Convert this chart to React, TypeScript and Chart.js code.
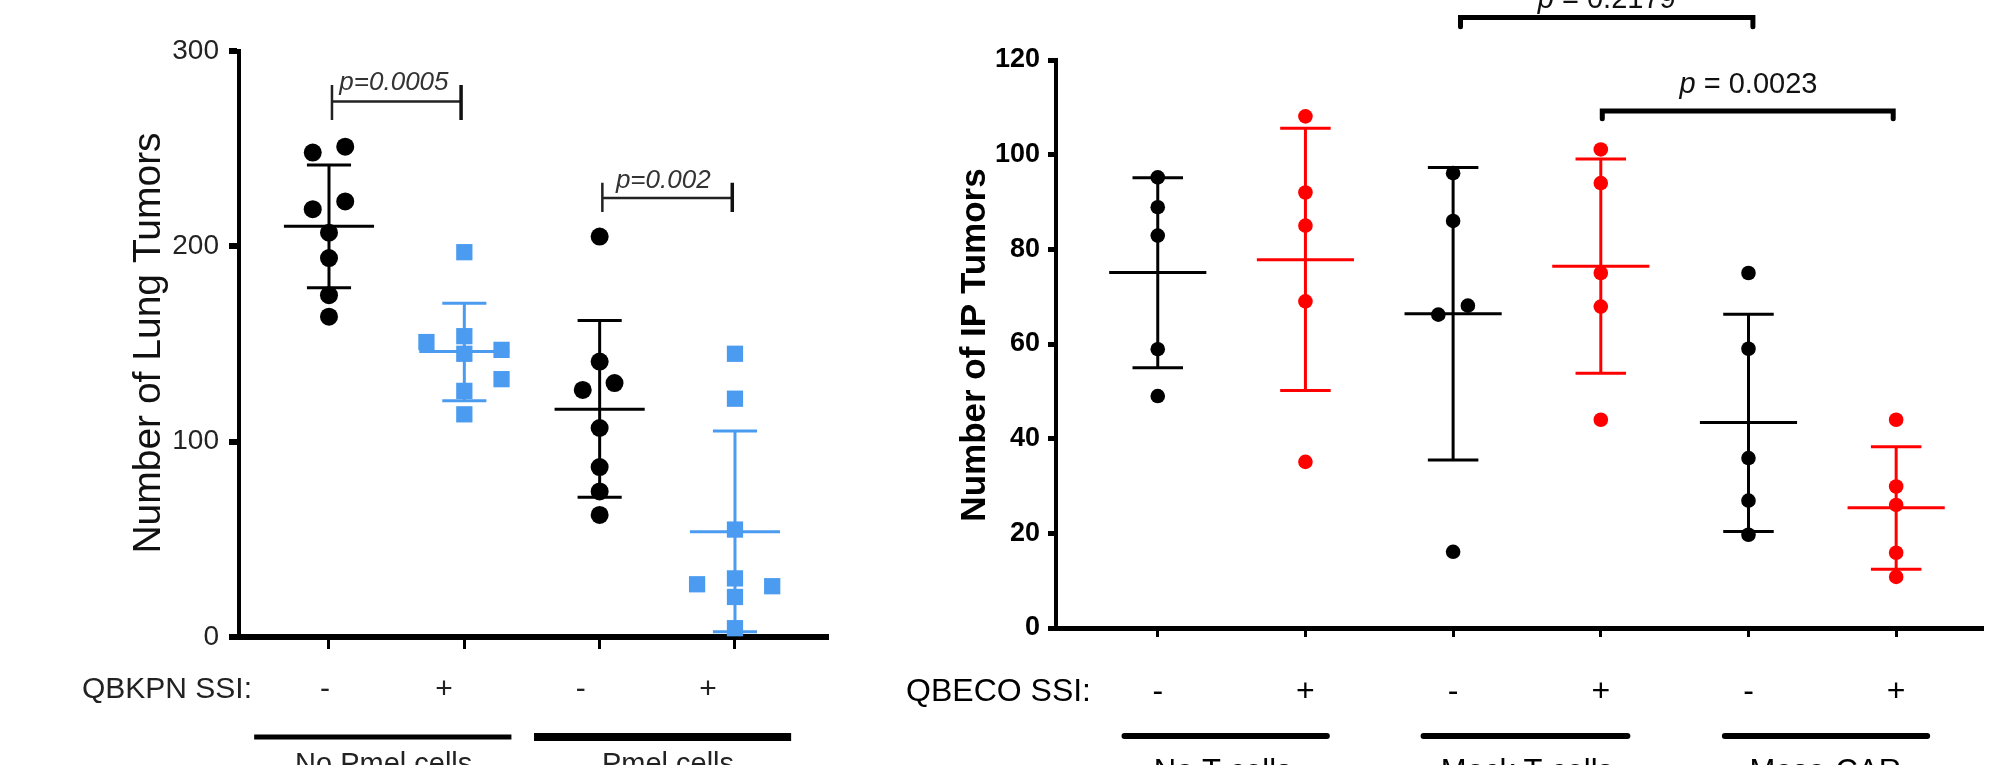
import React, { useEffect, useRef } from 'react';
import { Chart, registerables } from 'chart.js';

Chart.register(...registerables);

const FONT = '"Liberation Sans", Arial, Helvetica, sans-serif';

// ---------------- Left panel: Number of Lung Tumors ----------------
const lungRowHeader = 'QBKPN SSI:';
const lungRowLabels = ['-', '+', '-', '+'];
const lungRowLabelX = [0.97, 1.85, 2.86, 3.8];
const lungGroupNames = ['No Pmel cells', 'Pmel cells'];
const lungGroupLabelX = [1.404, 3.505];
const lungGroupSpans = [[0.447, 2.348], [2.515, 4.415]];
const lungTitle = 'Number of Lung Tumors';

const lungG1 = [248, 251, 219, 223, 207, 194, 175, 164];
const lungG1Jitter = [-0.12, 0.12, -0.12, 0.12, 0, 0, 0, 0];
const lungG2 = [197, 151, 154, 145, 147, 132, 126, 114];
const lungG2Jitter = [0, -0.28, 0, 0, 0.275, 0.275, 0, 0];
const lungG3 = [205, 141, 126.5, 130, 107, 87, 74.5, 62.5];
const lungG3Jitter = [0, 0, -0.125, 0.11, 0, 0, 0, 0];
const lungG4 = [145, 122, 55, 27, 30, 26, 20.5, 4.5];
const lungG4Jitter = [0, 0, 0, -0.28, 0, 0.275, 0, 0];
const lungMean = [210.3, 146.1, 116.6, 53.9];
const lungUpper = [241.7, 170.9, 162.0, 105.5];
const lungLower = [178.8, 121.0, 71.5, 2.7];
const lungColors = ['#000000', '#4b9bf0', '#000000', '#4b9bf0'];
const lungShapes = ['circle', 'rect', 'circle', 'rect'];

const lungPLabels = ['p=0.0005', 'p=0.002'];
const lungPLabelX = [1.48, 3.47];
const lungPLabelY = [280, 230];
const lungBracketX = [[1.022, 1.976], [3.02, 3.98]];
const lungBracketY = [274.1, 224.8];
const lungBracketTop = [282.6, 232.5];
const lungBracketBottom = [264.7, 217.6];

// ---------------- Right panel: Number of IP Tumors ----------------
const ipRowHeader = 'QBECO SSI:';
const ipRowLabels = ['-', '+', '-', '+', '-', '+'];
const ipGroupNames = ['No T cells', 'Mock T cells', 'Meso-CAR'];
const ipGroupLabelX = [1.44, 3.5, 5.52];
const ipGroupSpans = [[0.775, 2.145], [2.8, 4.18], [4.84, 6.21]];
const ipTitle = 'Number of IP Tumors';

const ipG1 = [95.2, 88.9, 82.9, 58.9, 49.0];
const ipG2 = [108.1, 92.0, 85.0, 69.0, 35.1];
const ipG3 = [96.1, 86.0, 66.2, 68.1, 16.1];
const ipG3Jitter = [0, 0, -0.1, 0.1, 0];
const ipG4 = [101.1, 94.0, 75.0, 67.9, 44.0];
const ipG5 = [75.0, 59.0, 35.9, 26.9, 19.7];
const ipG6 = [44.0, 29.9, 26.0, 15.9, 10.8];
const ipMean = [75.1, 77.8, 66.4, 76.4, 43.4, 25.4];
const ipUpper = [95.1, 105.6, 97.3, 99.1, 66.3, 38.3];
const ipLower = [55.0, 50.2, 35.5, 53.8, 20.4, 12.4];
const ipColors = ['#000000', '#ff0000', '#000000', '#ff0000', '#000000', '#ff0000'];

const ipPValues = ['0.2179', '0.0023'];
const ipPLabelX = [4.04, 5.0];
const ipPLabelY = [131, 113];
const ipBracketX = [[3.05, 5.03], [4.01, 5.98]];
const ipBracketY = [129.0, 109.2];
const ipBracketDrop = [127.0, 107.6];

// ---------------- helpers ----------------
function seg(pts: { x: number; y: number }[], color: string, w: number, cap = 'butt') {
  return {
    type: 'scatter',
    data: pts,
    showLine: true,
    borderColor: color,
    backgroundColor: color,
    borderWidth: w,
    borderCapStyle: cap,
    borderJoinStyle: 'miter',
    pointRadius: 0,
    pointHoverRadius: 0,
    clip: false,
  };
}

function errorBars(x: number, mean: number, lo: number, hi: number, color: string, meanHalf: number, capHalf: number, w: number) {
  return [
    seg([{ x: x - meanHalf, y: mean }, { x: x + meanHalf, y: mean }], color, w),
    seg([{ x, y: lo }, { x, y: hi }], color, w),
    seg([{ x: x - capHalf, y: hi }, { x: x + capHalf, y: hi }], color, w),
    seg([{ x: x - capHalf, y: lo }, { x: x + capHalf, y: lo }], color, w),
  ];
}

function pointsSet(x: number, vals: number[], jitter: number[] | null, color: string, shape: string, r: number) {
  return {
    type: 'scatter',
    data: vals.map((v, i) => ({ x: x + (jitter ? jitter[i] : 0), y: v })),
    pointStyle: shape,
    pointRadius: r,
    pointHoverRadius: r,
    pointBackgroundColor: color,
    pointBorderColor: color,
    pointBorderWidth: 0,
    showLine: false,
    clip: false,
  };
}

function drawRotated(ctx: CanvasRenderingContext2D, text: string, x: number, y: number, font: string, color: string) {
  ctx.save();
  ctx.translate(x, y);
  ctx.rotate(-Math.PI / 2);
  ctx.font = font;
  ctx.fillStyle = color;
  ctx.textAlign = 'center';
  ctx.textBaseline = 'alphabetic';
  ctx.fillText(text, 0, 0);
  ctx.restore();
}

// ---------------- left chart config ----------------
function lungConfig() {
  const groups = [lungG1, lungG2, lungG3, lungG4];
  const jit = [lungG1Jitter, lungG2Jitter, lungG3Jitter, lungG4Jitter];
  const datasets: any[] = [];
  groups.forEach((g, i) => {
    datasets.push(pointsSet(i + 1, g, jit[i], lungColors[i], lungShapes[i], lungShapes[i] === 'rect' ? 11.5 : 9));
  });
  groups.forEach((_, i) => {
    datasets.push(...errorBars(i + 1, lungMean[i], lungLower[i], lungUpper[i], lungColors[i], 0.333, 0.163, 3));
  });
  lungBracketX.forEach((bx, i) => {
    datasets.push(seg([{ x: bx[0], y: lungBracketTop[i] }, { x: bx[0], y: lungBracketBottom[i] }], '#222', 2.5));
    datasets.push(seg([{ x: bx[1], y: lungBracketTop[i] }, { x: bx[1], y: lungBracketBottom[i] }], '#111', 3.5));
    datasets.push(seg([{ x: bx[0], y: lungBracketY[i] }, { x: bx[1], y: lungBracketY[i] }], '#222', 2.5));
  });

  const plugin = {
    id: 'lungAnnot',
    afterDraw(chart: any) {
      const { ctx, chartArea } = chart;
      const xs = chart.scales.x;
      const ys = chart.scales.y;
      ctx.save();
      // p labels
      ctx.font = `italic 26px ${FONT}`;
      ctx.fillStyle = '#333';
      ctx.textAlign = 'center';
      ctx.textBaseline = 'alphabetic';
      lungPLabels.forEach((t, i) => ctx.fillText(t, xs.getPixelForValue(lungPLabelX[i]), ys.getPixelForValue(lungPLabelY[i])));
      // row header + labels
      ctx.font = `30px ${FONT}`;
      ctx.fillStyle = '#222';
      ctx.textBaseline = 'middle';
      ctx.textAlign = 'right';
      ctx.fillText(lungRowHeader, chartArea.left + 13, chartArea.bottom + 53);
      ctx.textAlign = 'center';
      lungRowLabels.forEach((t, i) => ctx.fillText(t, xs.getPixelForValue(lungRowLabelX[i]), chartArea.bottom + 53));
      // group bars
      ctx.strokeStyle = '#000';
      lungGroupSpans.forEach((s, i) => {
        ctx.lineWidth = i === 0 ? 5 : 8;
        ctx.beginPath();
        ctx.moveTo(xs.getPixelForValue(s[0]), chartArea.bottom + 100);
        ctx.lineTo(xs.getPixelForValue(s[1]), chartArea.bottom + 100);
        ctx.stroke();
      });
      ctx.font = `29px ${FONT}`;
      ctx.fillStyle = '#222';
      ctx.textBaseline = 'alphabetic';
      lungGroupNames.forEach((t, i) => ctx.fillText(t, xs.getPixelForValue(lungGroupLabelX[i]), chartArea.bottom + 136));
      ctx.restore();
      drawRotated(ctx, lungTitle, chartArea.left - 79, 343, `39px ${FONT}`, '#111');
    },
  };

  return {
    type: 'scatter',
    data: { datasets },
    plugins: [plugin],
    options: {
      animation: false,
      responsive: false,
      events: [],
      layout: { padding: { left: 0, top: 51, right: 73, bottom: 0 } },
      plugins: { legend: { display: false }, tooltip: { enabled: false } },
      scales: {
        x: {
          type: 'linear',
          min: 0.335,
          max: 4.68,
          afterBuildTicks: (s: any) => { s.ticks = [1, 2, 3, 4].map((v) => ({ value: v })); },
          afterFit: (s: any) => { s.height = 128; },
          ticks: { callback: () => '', padding: 0 },
          grid: { display: true, drawOnChartArea: false, drawTicks: true, tickLength: 12, tickWidth: 3, tickColor: '#000', color: '#000', lineWidth: 3 },
          border: { display: true, color: '#000', width: 6 },
        },
        y: {
          type: 'linear',
          min: 0,
          max: 300,
          ticks: { stepSize: 100, padding: 10, color: '#222', font: { family: FONT, size: 28 } },
          afterFit: (s: any) => { s.width = 239; },
          grid: { display: true, drawOnChartArea: false, drawTicks: true, tickLength: 10, tickWidth: 6, tickColor: '#000', color: '#000', lineWidth: 6 },
          border: { display: true, color: '#000', width: 4 },
        },
      },
    },
  };
}

// ---------------- right chart config ----------------
function ipConfig() {
  const groups = [ipG1, ipG2, ipG3, ipG4, ipG5, ipG6];
  const datasets: any[] = [];
  groups.forEach((g, i) => {
    datasets.push(pointsSet(i + 1, g, i === 2 ? ipG3Jitter : null, ipColors[i], 'circle', 7.3));
  });
  groups.forEach((_, i) => {
    datasets.push(...errorBars(i + 1, ipMean[i], ipLower[i], ipUpper[i], ipColors[i], 0.329, 0.171, 3));
  });
  ipBracketX.forEach((bx, i) => {
    datasets.push(seg([
      { x: bx[0], y: ipBracketDrop[i] },
      { x: bx[0], y: ipBracketY[i] },
      { x: bx[1], y: ipBracketY[i] },
      { x: bx[1], y: ipBracketDrop[i] },
    ], '#000', 5, 'round'));
  });

  const plugin = {
    id: 'ipAnnot',
    afterDraw(chart: any) {
      const { ctx, chartArea } = chart;
      const xs = chart.scales.x;
      const ys = chart.scales.y;
      ctx.save();
      // p labels: italic p + regular rest
      ipPValues.forEach((v, i) => {
        const pFont = `italic 29px ${FONT}`;
        const rFont = `29px ${FONT}`;
        ctx.font = pFont;
        const wp = ctx.measureText('p').width;
        ctx.font = rFont;
        const rest = ' = ' + v;
        const wr = ctx.measureText(rest).width;
        const cx = xs.getPixelForValue(ipPLabelX[i]);
        const by = ys.getPixelForValue(ipPLabelY[i]);
        const x0 = cx - (wp + wr) / 2;
        ctx.fillStyle = '#111';
        ctx.textAlign = 'left';
        ctx.textBaseline = 'alphabetic';
        ctx.font = pFont;
        ctx.fillText('p', x0, by);
        ctx.font = rFont;
        ctx.fillText(rest, x0 + wp, by);
      });
      // row header + labels
      ctx.font = `32px ${FONT}`;
      ctx.fillStyle = '#000';
      ctx.textBaseline = 'middle';
      ctx.textAlign = 'right';
      ctx.fillText(ipRowHeader, chartArea.left + 35, chartArea.bottom + 64);
      ctx.textAlign = 'center';
      ipRowLabels.forEach((t, i) => ctx.fillText(t, xs.getPixelForValue(i + 1), chartArea.bottom + 64));
      // group bars
      ctx.strokeStyle = '#000';
      ctx.lineWidth = 6;
      ctx.lineCap = 'round';
      ipGroupSpans.forEach((s) => {
        ctx.beginPath();
        ctx.moveTo(xs.getPixelForValue(s[0]), chartArea.bottom + 108);
        ctx.lineTo(xs.getPixelForValue(s[1]), chartArea.bottom + 108);
        ctx.stroke();
      });
      ctx.font = `31px ${FONT}`;
      ctx.textBaseline = 'alphabetic';
      ipGroupNames.forEach((t, i) => ctx.fillText(t, xs.getPixelForValue(ipGroupLabelX[i]), chartArea.bottom + 153));
      ctx.restore();
      drawRotated(ctx, ipTitle, chartArea.left - 71, 345, `bold 35px ${FONT}`, '#000');
    },
  };

  return {
    type: 'scatter',
    data: { datasets },
    plugins: [plugin],
    options: {
      animation: false,
      responsive: false,
      events: [],
      layout: { padding: { left: 0, top: 60, right: 0, bottom: 0 } },
      plugins: { legend: { display: false }, tooltip: { enabled: false } },
      scales: {
        x: {
          type: 'linear',
          min: 0.311,
          max: 6.586,
          afterBuildTicks: (s: any) => { s.ticks = [1, 2, 3, 4, 5, 6].map((v) => ({ value: v })); },
          afterFit: (s: any) => { s.height = 137; },
          ticks: { callback: () => '', padding: 0 },
          grid: { display: true, drawOnChartArea: false, drawTicks: true, tickLength: 9, tickWidth: 3, tickColor: '#000', color: '#000', lineWidth: 3 },
          border: { display: true, color: '#000', width: 5 },
        },
        y: {
          type: 'linear',
          min: 0,
          max: 120,
          ticks: { stepSize: 20, padding: 8, color: '#000', font: { family: FONT, size: 27, weight: 'bold' } },
          afterFit: (s: any) => { s.width = 156; },
          grid: { display: true, drawOnChartArea: false, drawTicks: true, tickLength: 8, tickWidth: 5, tickColor: '#000', color: '#000', lineWidth: 5 },
          border: { display: true, color: '#000', width: 4 },
        },
      },
    },
  };
}

function ChartCanvas({ makeConfig, left, width }: { makeConfig: () => any; left: number; width: number }) {
  const ref = useRef<HTMLCanvasElement | null>(null);
  useEffect(() => {
    if (!ref.current) return;
    const chart = new Chart(ref.current, makeConfig());
    return () => chart.destroy();
  }, [makeConfig]);
  return (
    <canvas
      ref={ref}
      width={width}
      height={765}
      style={{ position: 'absolute', left, top: 0, width, height: 765, display: 'block' }}
    />
  );
}

export default function App() {
  return (
    <div style={{ position: 'absolute', left: 0, top: 0, width: 1990, height: 765, background: '#ffffff', overflow: 'hidden' }}>
      <ChartCanvas makeConfig={lungConfig} left={0} width={900} />
      <ChartCanvas makeConfig={ipConfig} left={900} width={1090} />
    </div>
  );
}
